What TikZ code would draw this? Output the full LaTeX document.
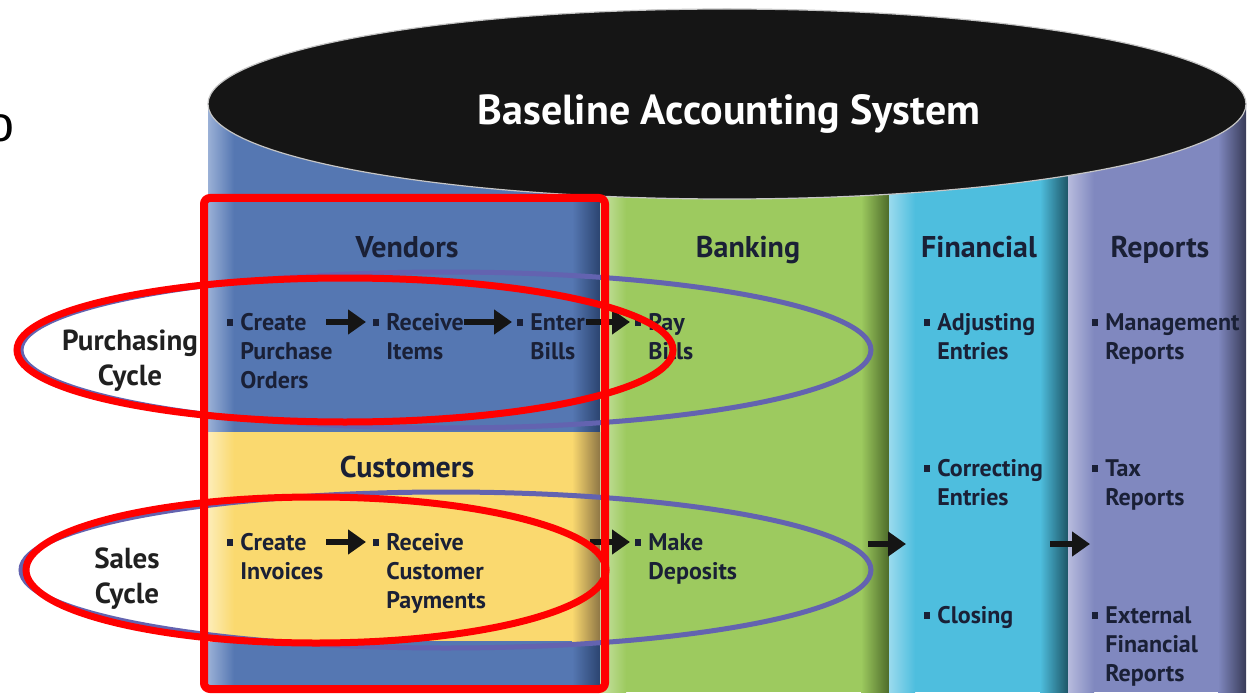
\documentclass[tikz,border=0pt]{standalone}
\usepackage{fontspec}
\setmainfont{PT Sans}
\newfontfamily\ofont{Liberation Sans}
\usetikzlibrary{arrows.meta}
\definecolor{blueL}{HTML}{9AB0D6}\definecolor{blueM}{HTML}{5577B2}\definecolor{blueD}{HTML}{2B4470}
\definecolor{greenL}{HTML}{C9E2A6}\definecolor{greenM}{HTML}{9DCA5F}\definecolor{greenD}{HTML}{4D6B2A}
\definecolor{cyanL}{HTML}{9ADAEE}\definecolor{cyanM}{HTML}{4EBEDE}\definecolor{cyanD}{HTML}{1D5566}
\definecolor{purL}{HTML}{B7BBDD}\definecolor{purM}{HTML}{8088BF}\definecolor{purD}{HTML}{383B58}
\definecolor{yelL}{HTML}{FDEDB8}\definecolor{yelM}{HTML}{FAD96F}\definecolor{yelD}{HTML}{8E7645}
\definecolor{ringc}{HTML}{6363B0}
\definecolor{itemc}{HTML}{1A2036}
\definecolor{cycc}{HTML}{202020}
\definecolor{topc}{HTML}{151515}
\definecolor{annred}{HTML}{FF0000}
\definecolor{arrc}{HTML}{151515}
\newcommand\colband[7]{%
  \fill[#6] (#1,#3) rectangle (#2,#4);
  \shade[left color=#5,right color=#6] (#1,#3) rectangle ({#1+26},#4);
  \shade[left color=#6,right color=#7] ({#2-28},#3) rectangle (#2,#4);
}
\newcommand\bul{\llap{\rule[2pt]{3pt}{3.5pt}\hspace{3.5pt}}}
\newcommand\tl[1]{\begin{tabular}[t]{@{}l@{}}#1\end{tabular}}
\newcommand\tc[1]{\begin{tabular}[t]{@{}c@{}}#1\end{tabular}}
\begin{document}
\begin{tikzpicture}[x=0.5pt,y=-0.5pt,
  item/.style={anchor=base west, inner sep=0pt, font=\fontsize{12}{14.7}\selectfont\bfseries, text=itemc},
  head/.style={anchor=base, inner sep=0pt, font=\fontsize{15}{17}\selectfont\bfseries, text=itemc},
  cyc/.style={anchor=base, inner sep=0pt, font=\fontsize{14.5}{17.5}\selectfont\bfseries, text=cycc},
  arr/.style={line width=3pt, draw=arrc, -{Triangle[length=9pt,width=12pt]}},
  redl/.style={draw=annred, line width=4pt},
  ring/.style={draw=ringc, line width=2.5pt}]
\useasboundingbox (0,0) rectangle (1257,695);
\fill[white] (0,0) rectangle (1257,695);
% partial letter at left edge
\node[inner sep=0pt, font=\ofont\fontsize{25}{25}\selectfont] (ochar) at (0,128) {o};
% cylinder columns
\colband{208}{600}{104}{692}{blueL}{blueM}{blueD}
\colband{600}{889}{104}{692}{greenL}{greenM}{greenD}
\colband{889}{1068}{104}{692}{cyanL}{cyanM}{cyanD}
\colband{1068}{1246}{104}{692}{purL}{purM}{purD}
\colband{208}{600}{432}{641}{yelL}{yelM}{yelD}
% top
\fill[topc] (727,104) ellipse [x radius=519, y radius=95];
\draw[gray!45, line width=0.6pt] (727,104) ellipse [x radius=519, y radius=95];
\node[anchor=base, inner sep=0pt, text=white, font=\fontsize{21}{23}\selectfont\bfseries] (title) at (729,125) {Baseline Accounting System};
% cycle rings
\draw[ring] (446,350) ellipse [x radius=425, y radius=78];
\draw[ring] (446,570) ellipse [x radius=425, y radius=78];
% headers
\node[head] (vend) at (407,257) {Vendors};
\node[head] (bank) at (748,257) {Banking};
\node[head] (fin) at (979,257) {Financial};
\node[head] (rep) at (1160,257) {Reports};
\node[head] (cust) at (407,477) {Customers};
% cycle labels
\node[cyc] (pcyc) at (130,350) {\tc{Purchasing\\Cycle}};
\node[cyc] (scyc) at (127,568) {\tc{Sales\\Cycle}};
% items
\node[item] (cpo) at (240,330) {\tl{\bul Create\\Purchase\\Orders}};
\node[item] (rit) at (386,330) {\tl{\bul Receive\\Items}};
\node[item] (ebl) at (530,330) {\tl{\bul Enter\\Bills}};
\node[item] (pbl) at (648,330) {\tl{\bul Pay\\Bills}};
\node[item] (adj) at (937,330) {\tl{\bul Adjusting\\Entries}};
\node[item] (mgt) at (1105,330) {\tl{\bul Management\\Reports}};
\node[item] (cinv) at (240,550) {\tl{\bul Create\\Invoices}};
\node[item] (rcp) at (386,550) {\tl{\bul Receive\\Customer\\Payments}};
\node[item] (mdep) at (648,550) {\tl{\bul Make\\Deposits}};
\node[item] (corr) at (937,476) {\tl{\bul Correcting\\Entries}};
\node[item] (tax) at (1105,476) {\tl{\bul Tax\\Reports}};
\node[item] (clo) at (937,623) {\tl{\bul Closing}};
\node[item] (ext) at (1105,623) {\tl{\bul External\\Financial\\Reports}};
% arrows
\draw[arr] ([shift={(86,-8)}]cpo.base west) -- ([shift={(-20,-8)}]rit.base west);
\draw[arr] ([shift={(78,-8)}]rit.base west) -- ([shift={(-18,-8)}]ebl.base west);
\draw[arr] ([shift={(56,-8)}]ebl.base west) -- ([shift={(-18,-8)}]pbl.base west);
\draw[arr] ([shift={(86,-8)}]cinv.base west) -- ([shift={(-20,-8)}]rcp.base west);
\draw[arr] ([shift={(204,-8)}]rcp.base west) -- ([shift={(-18,-8)}]mdep.base west);
\coordinate (bfs) at (868,544);
\coordinate (bfe) at (906,544);
\coordinate (frs) at (1050,544);
\coordinate (fre) at (1090,544);
\draw[arr] (bfs) -- (bfe);
\draw[arr] (frs) -- (fre);
% red annotations
\draw[redl, rounded corners=3] (204,198) rectangle (605,689);
\draw[redl, line width=3.5pt] (345,350) ellipse [x radius=328, y radius=72];
\draw[redl, line width=3.5pt] (316,570) ellipse [x radius=290, y radius=73];
\end{tikzpicture}
\end{document}
